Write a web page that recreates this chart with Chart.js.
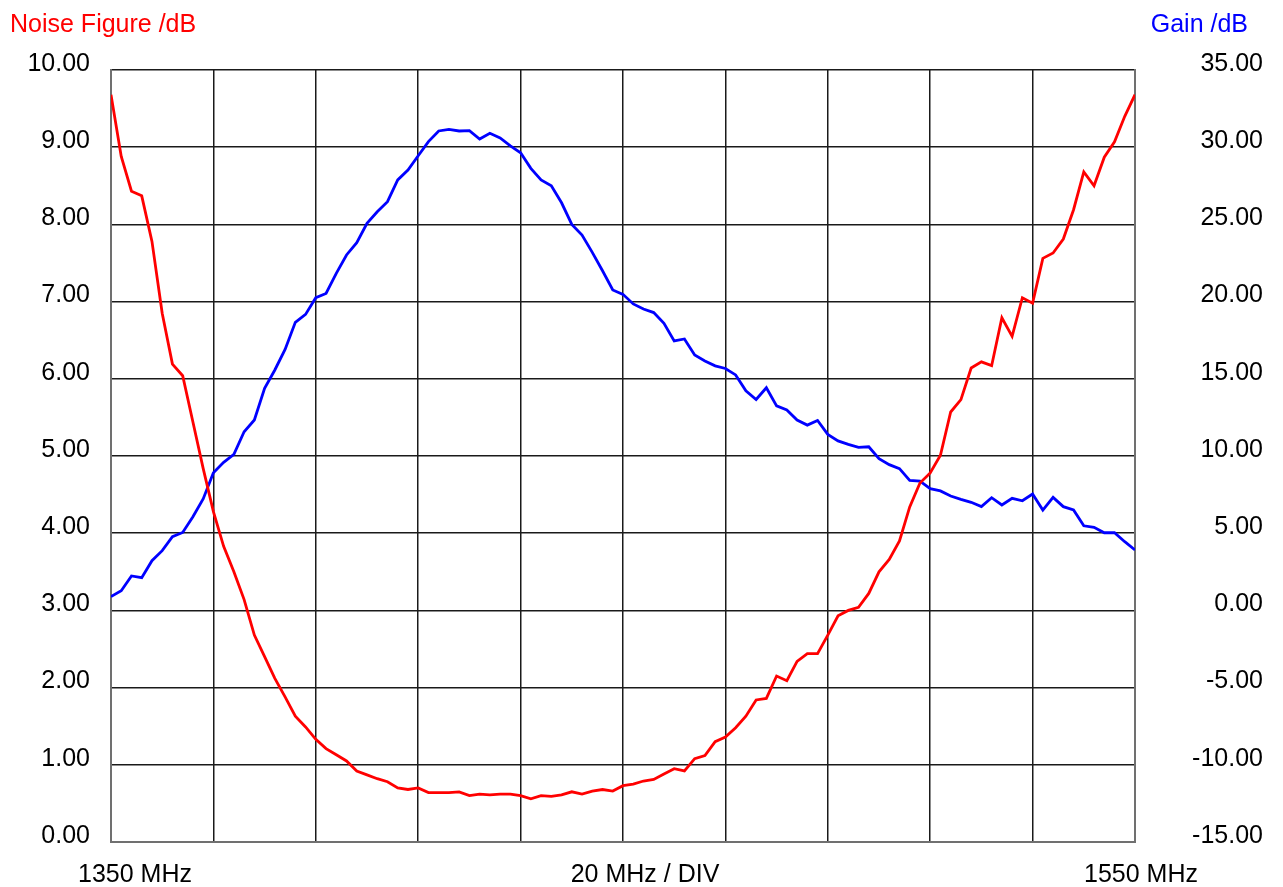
<!DOCTYPE html>
<html>
<head>
<meta charset="utf-8">
<title>Noise Figure / Gain</title>
<script src="https://cdn.jsdelivr.net/npm/chart.js@4"></script>
<style>
    html, body { margin: 0; padding: 0; background: #ffffff; }
    #wrap { width: 1283px; height: 887px; }
</style>
</head>
<body>
<div id="wrap"><canvas id="nf-gain-chart" width="1283" height="887"></canvas></div>
<script>
// 掃頻點 (MHz)
const freqMHz = [
    1350, 1352, 1354, 1356, 1358, 1360, 1362, 1364, 1366, 1368,
    1370, 1372, 1374, 1376, 1378, 1380, 1382, 1384, 1386, 1388,
    1390, 1392, 1394, 1396, 1398, 1400, 1402, 1404, 1406, 1408,
    1410, 1412, 1414, 1416, 1418, 1420, 1422, 1424, 1426, 1428,
    1430, 1432, 1434, 1436, 1438, 1440, 1442, 1444, 1446, 1448,
    1450, 1452, 1454, 1456, 1458, 1460, 1462, 1464, 1466, 1468,
    1470, 1472, 1474, 1476, 1478, 1480, 1482, 1484, 1486, 1488,
    1490, 1492, 1494, 1496, 1498, 1500, 1502, 1504, 1506, 1508,
    1510, 1512, 1514, 1516, 1518, 1520, 1522, 1524, 1526, 1528,
    1530, 1532, 1534, 1536, 1538, 1540, 1542, 1544, 1546, 1548,
    1550
];

// 雜訊指數 (dB)
const noiseFigure = [
    9.68, 8.88, 8.43, 8.37, 7.78, 6.85, 6.19, 6.04, 5.44, 4.84,
    4.28, 3.83, 3.50, 3.14, 2.68, 2.40, 2.12, 1.88, 1.63, 1.49,
    1.33, 1.21, 1.13, 1.05, 0.92, 0.87, 0.82, 0.78, 0.70, 0.68,
    0.70, 0.64, 0.64, 0.64, 0.65, 0.60, 0.62, 0.61, 0.62, 0.62,
    0.60, 0.56, 0.60, 0.59, 0.61, 0.65, 0.62, 0.66, 0.68, 0.66,
    0.73, 0.75, 0.79, 0.81, 0.88, 0.95, 0.92, 1.08, 1.12, 1.30,
    1.36, 1.48, 1.63, 1.84, 1.86, 2.15, 2.09, 2.34, 2.44, 2.44,
    2.68, 2.93, 3.00, 3.04, 3.22, 3.50, 3.66, 3.90, 4.34, 4.65,
    4.78, 5.01, 5.57, 5.73, 6.14, 6.22, 6.17, 6.79, 6.55, 7.05,
    6.98, 7.56, 7.63, 7.81, 8.19, 8.68, 8.50, 8.87, 9.07, 9.40,
    9.68
];

// 增益 (dB)
const gain = [
    0.89, 1.27, 2.23, 2.12, 3.22, 3.87, 4.77, 5.05, 6.07, 7.22,
    8.92, 9.59, 10.11, 11.57, 12.33, 14.38, 15.57, 16.90, 18.66, 19.17,
    20.25, 20.53, 21.83, 23.02, 23.82, 25.07, 25.82, 26.47, 27.88, 28.52,
    29.45, 30.36, 31.05, 31.15, 31.05, 31.07, 30.53, 30.90, 30.60, 30.08,
    29.64, 28.63, 27.88, 27.50, 26.40, 25.00, 24.31, 23.19, 22.00, 20.75,
    20.47, 19.85, 19.52, 19.29, 18.59, 17.45, 17.58, 16.54, 16.16, 15.84,
    15.67, 15.25, 14.22, 13.66, 14.42, 13.25, 12.98, 12.33, 12.00, 12.30,
    11.40, 10.98, 10.75, 10.56, 10.60, 9.83, 9.44, 9.18, 8.42, 8.37,
    7.88, 7.74, 7.41, 7.19, 7.00, 6.72, 7.30, 6.83, 7.26, 7.10,
    7.54, 6.50, 7.32, 6.72, 6.50, 5.48, 5.38, 5.03, 5.03, 4.45,
    3.91
];

// 座標軸範圍與文字
const nfRange = [0, 10, 1];
const gainRange = [-15, 35, 5];
const freqRange = [1350, 1550, 20];
const axisTitles = ['Noise Figure /dB', 'Gain /dB'];
const bottomLabels = ['1350 MHz', '20 MHz / DIV', '1550 MHz'];

const FONT = '"Liberation Sans", Arial, Helvetica, sans-serif';

function toPoints(xs, ys) {
    return xs.map((x, i) => ({ x: x, y: ys[i] }));
}

// 標題與底部文字
const textPlugin = {
    id: 'nfText',
    afterDraw(chart) {
        const ctx = chart.ctx;
        const xs = chart.scales.x;
        ctx.save();
        ctx.font = '25px ' + FONT;
        ctx.textBaseline = 'alphabetic';

        ctx.fillStyle = '#ff0000';
        ctx.textAlign = 'left';
        ctx.fillText(axisTitles[0], 10, 32);

        ctx.fillStyle = '#0000ff';
        ctx.textAlign = 'right';
        ctx.fillText(axisTitles[1], 1248, 32);

        ctx.fillStyle = '#000000';
        ctx.textAlign = 'center';
        const baseY = chart.chartArea.bottom + 40;
        ctx.fillText(bottomLabels[0], xs.getPixelForValue(freqRange[0]) + 24, baseY);
        ctx.fillText(bottomLabels[1], xs.getPixelForValue((freqRange[0] + freqRange[1]) / 2) + 22, baseY);
        ctx.fillText(bottomLabels[2], xs.getPixelForValue(freqRange[1]) + 6, baseY);
        ctx.restore();
    }
};

function initChart() {
    const ctx = document.getElementById('nf-gain-chart').getContext('2d');
    const gridColor = '#1a1a1a';
    const frameColor = '#707070';

    return new Chart(ctx, {
        type: 'line',
        data: {
            datasets: [
                {
                    label: 'Noise Figure',
                    data: toPoints(freqMHz, noiseFigure),
                    borderColor: '#ff0000',
                    borderWidth: 2.8,
                    pointRadius: 0,
                    tension: 0,
                    yAxisID: 'yNF'
                },
                {
                    label: 'Gain',
                    data: toPoints(freqMHz, gain),
                    borderColor: '#0000ff',
                    borderWidth: 2.8,
                    pointRadius: 0,
                    tension: 0,
                    yAxisID: 'yGain'
                }
            ]
        },
        options: {
            responsive: false,
            animation: false,
            devicePixelRatio: 1,
            layout: { padding: { top: 70, left: 0, right: 20, bottom: 0 } },
            plugins: {
                legend: { display: false },
                tooltip: { enabled: false }
            },
            scales: {
                x: {
                    type: 'linear',
                    min: freqRange[0],
                    max: freqRange[1],
                    ticks: { stepSize: freqRange[2], display: false },
                    grid: { color: gridColor, lineWidth: 1.5, drawTicks: false },
                    border: { display: true, color: frameColor, width: 2 },
                    afterFit: (scale) => { scale.height = 45; }
                },
                yNF: {
                    type: 'linear',
                    position: 'left',
                    min: nfRange[0],
                    max: nfRange[1],
                    ticks: {
                        stepSize: nfRange[2],
                        padding: 21,
                        labelOffset: -6,
                        color: '#000000',
                        font: { family: FONT, size: 25 },
                        callback: (v) => v.toFixed(2)
                    },
                    grid: { color: gridColor, lineWidth: 1.5, drawTicks: false },
                    border: { display: true, color: frameColor, width: 2 },
                    afterFit: (scale) => { scale.width = 111; }
                },
                yGain: {
                    type: 'linear',
                    position: 'right',
                    min: gainRange[0],
                    max: gainRange[1],
                    ticks: {
                        stepSize: gainRange[2],
                        crossAlign: 'far',
                        padding: 10,
                        labelOffset: -6,
                        color: '#000000',
                        font: { family: FONT, size: 25 },
                        callback: (v) => v.toFixed(2)
                    },
                    grid: { drawOnChartArea: false, drawTicks: false },
                    border: { display: true, color: frameColor, width: 2 },
                    afterFit: (scale) => { scale.width = 1283 - 20 - 1135; }
                }
            }
        },
        plugins: [textPlugin]
    });
}

initChart();
</script>
</body>
</html>
